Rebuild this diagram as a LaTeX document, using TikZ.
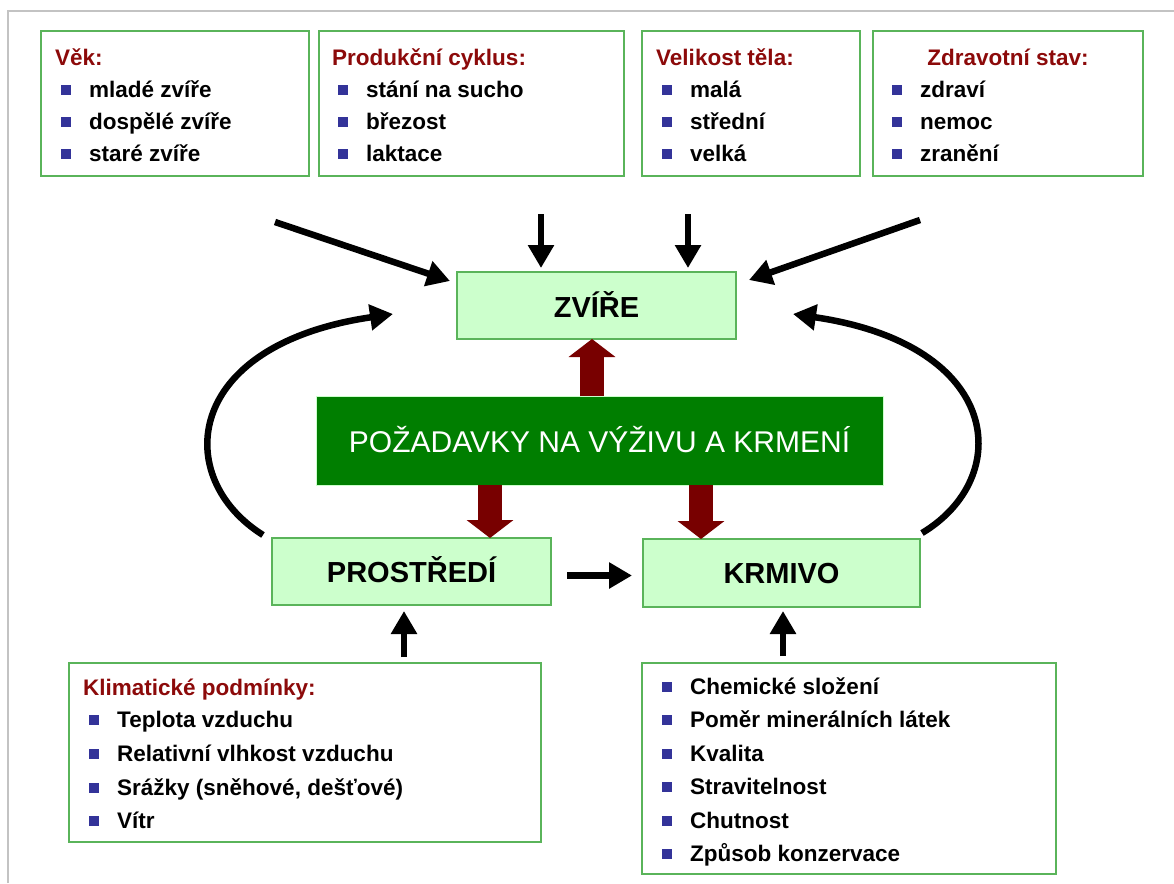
\documentclass[tikz,border=0pt]{standalone}
\usepackage{fontspec}
\setmainfont{Liberation Sans}
\usetikzlibrary{arrows.meta,calc}
\definecolor{framec}{RGB}{195,195,195}
\definecolor{boxgreen}{RGB}{90,180,90}
\definecolor{lightfill}{RGB}{204,255,204}
\definecolor{darkgreen}{RGB}{0,126,0}
\definecolor{arrred}{RGB}{120,0,0}
\definecolor{titlec}{RGB}{140,10,10}
\definecolor{bulc}{RGB}{51,51,153}
\newcommand{\bitem}[4]{%
  \fill[bulc] (#2-5,#3-12) rectangle (#2+5,#3-2);
  \node[itemtxt, anchor=base west] (#1) at (#2+23,#3) {#4};
}
\begin{document}
\begin{tikzpicture}[x=1pt,y=-1pt,
  listbox/.style={draw=boxgreen, line width=1.4pt, fill=white, inner sep=0pt, outer sep=0pt, anchor=north west},
  mainbox/.style={draw=boxgreen, line width=1.4pt, fill=lightfill, inner sep=0pt, outer sep=0pt, anchor=north west},
  reqbox/.style={draw=lightfill, line width=1pt, fill=darkgreen, inner sep=0pt, outer sep=0pt, anchor=north west},
  itemtxt/.style={inner sep=0pt, font=\fontsize{22.5}{27}\selectfont\bfseries, text=black},
  ttl/.style={inner sep=0pt, font=\fontsize{22.5}{27}\selectfont\bfseries, text=titlec},
  lbl/.style={inner sep=0pt, anchor=base, font=\fontsize{29}{34}\selectfont\bfseries, text=black},
  blk/.style={draw=black, line width=6.5pt, -{Triangle[length=23pt,width=25pt]}},
  redarr/.style={draw=arrred, line width=24pt, -{Triangle[length=18pt,width=46pt]}}
]
\useasboundingbox[fill=white] (0,0) rectangle (1174,883);
\draw[framec, line width=2.5pt] (8,883) -- (8,11) -- (1174,11);

% top list boxes
\node[listbox, minimum width=268pt, minimum height=145pt] (vek) at (41,31) {};
\node[listbox, minimum width=305pt, minimum height=145pt] (prod) at (319,31) {};
\node[listbox, minimum width=218pt, minimum height=145pt] (vel) at (642,31) {};
\node[listbox, minimum width=270pt, minimum height=145pt] (zdr) at (873,31) {};

\node[ttl, anchor=base west] (vekT) at (55,65) {Věk:};
\bitem{vek1}{66}{97}{mladé zvíře}
\bitem{vek2}{66}{129}{dospělé zvíře}
\bitem{vek3}{66}{161}{staré zvíře}

\node[ttl, anchor=base west] (prodT) at (332,65) {Produkční cyklus:};
\bitem{prod1}{343}{97}{stání na sucho}
\bitem{prod2}{343}{129}{březost}
\bitem{prod3}{343}{161}{laktace}

\node[ttl, anchor=base west] (velT) at (656,65) {Velikost těla:};
\bitem{vel1}{667}{97}{malá}
\bitem{vel2}{667}{129}{střední}
\bitem{vel3}{667}{161}{velká}

\node[ttl, anchor=base] (zdrT) at (1008,65) {Zdravotní stav:};
\bitem{zdr1}{897}{97}{zdraví}
\bitem{zdr2}{897}{129}{nemoc}
\bitem{zdr3}{897}{161}{zranění}

% central boxes
\node[mainbox, minimum width=279pt, minimum height=67pt] (zv) at (457,272) {};
\node[lbl] (zvT) at (596.5,317) {ZVÍŘE};
\node[reqbox, minimum width=567pt, minimum height=89pt] (req) at (316,396) {};
\node[inner sep=0pt, anchor=base, font=\fontsize{30}{36}\selectfont, text=white] (reqT) at (599.5,452) {POŽADAVKY NA VÝŽIVU A KRMENÍ};
\node[mainbox, minimum width=279pt, minimum height=67pt] (pros) at (272,538) {};
\node[lbl] (prosT) at (411.5,582) {PROSTŘEDÍ};
\node[mainbox, minimum width=277pt, minimum height=68pt] (krm) at (643,539) {};
\node[lbl] (krmT) at (781.5,583) {KRMIVO};

% bottom list boxes
\node[listbox, minimum width=472pt, minimum height=179pt] (klim) at (69,663) {};
\node[ttl, anchor=base west] (klimT) at (83,695) {Klimatické podmínky:};
\bitem{kl1}{94}{727}{Teplota vzduchu}
\bitem{kl2}{94}{761}{Relativní vlhkost vzduchu}
\bitem{kl3}{94}{795}{Srážky (sněhové, dešťové)}
\bitem{kl4}{94}{828}{Vítr}

\node[listbox, minimum width=414pt, minimum height=211pt] (krl) at (642,663) {};
\bitem{kr1}{667}{694}{Chemické složení}
\bitem{kr2}{667}{727}{Poměr minerálních látek}
\bitem{kr3}{667}{761}{Kvalita}
\bitem{kr4}{667}{794}{Stravitelnost}
\bitem{kr5}{667}{828}{Chutnost}
\bitem{kr6}{667}{861}{Způsob konzervace}

% free ends
\coordinate (s1) at (275,222);
\coordinate (s2) at (920,220);
\coordinate (s3) at (541,214);
\coordinate (s4) at (688,214);
\coordinate (e3) at (541,268);
\coordinate (e4) at (688,268);
\coordinate (c1e) at (393,314);
\coordinate (c2e) at (793,314);

% red block arrows
\draw[redarr] ([xshift=-4.5pt]zv.south |- req.north) -- ([xshift=-4.5pt]zv.south);
\draw[redarr] ([xshift=78.5pt]pros.north |- req.south) -- ([xshift=78.5pt]pros.north);
\draw[redarr] ([xshift=-80.5pt]krm.north |- req.south) -- ([xshift=-80.5pt]krm.north);

% black arrows
\draw[blk] (s1) -- ([xshift=-7pt,yshift=-9pt]zv.north west);
\draw[blk] (s2) -- ([xshift=13pt,yshift=-8pt]zv.north east);
\draw[blk] (s3) -- (e3);
\draw[blk] (s4) -- (e4);
\draw[blk] ([xshift=-9pt,yshift=3pt]pros.north west) .. controls (172,478) and (182,345) .. (c1e);
\draw[blk] ([xshift=2pt,yshift=6pt]krm.north east) .. controls (1014,478) and (1004,345) .. (c2e);
\draw[blk, shorten <=16pt, shorten >=11pt] ([yshift=-4pt]pros.east) -- ([yshift=-4pt]pros.east -| krm.west);
\draw[blk] ([xshift=-7.5pt,yshift=6pt]pros.south |- klim.north) -- ([xshift=-7.5pt,yshift=-6pt]pros.south);
\draw[blk] ([xshift=1.5pt,yshift=7pt]krm.south |- krl.north) -- ([xshift=1.5pt,yshift=-4pt]krm.south);
\end{tikzpicture}
\end{document}
